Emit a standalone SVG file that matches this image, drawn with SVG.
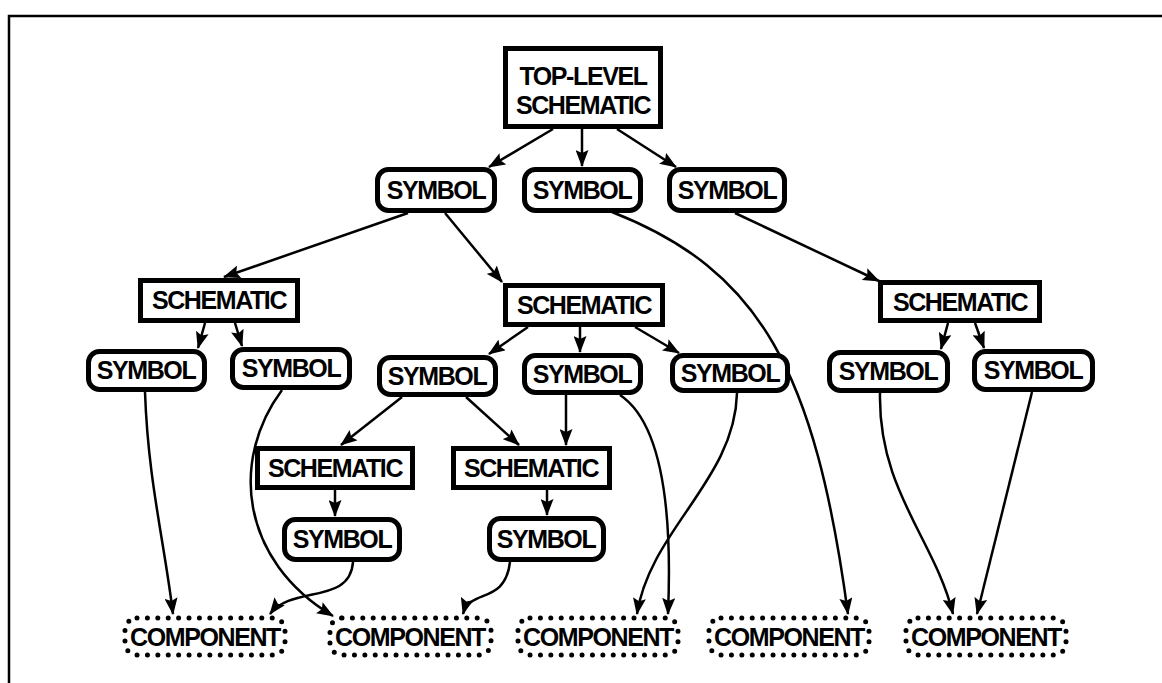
<svg xmlns="http://www.w3.org/2000/svg" width="1162" height="683" viewBox="0 0 1162 683">
<style>
.box{fill:#fff;stroke:#000;stroke-width:5}
.cmp{fill:#fff;stroke:#000;stroke-width:5;stroke-dasharray:0 10.4;stroke-linecap:round}
.t{font-family:"Liberation Sans",Arial,Helvetica,sans-serif;font-weight:bold;font-size:25px;text-anchor:middle;fill:#000;letter-spacing:-1.4px}
.e{fill:none;stroke:#000;stroke-width:2.5;marker-end:url(#ah)}
.frame{fill:none;stroke:#000;stroke-width:2.5}
</style>
<defs>
<marker id="ah" markerUnits="userSpaceOnUse" markerWidth="17" markerHeight="13" refX="16" refY="6.5" orient="auto">
<path d="M0,0 L17,6.5 L0,13 L3,6.5 z" fill="#000"/>
</marker>
</defs>
<rect width="1162" height="683" fill="#fff"/>
<path class="frame" d="M9,683 V16 H1162"/>

<g id="connectors">
<path class="e" d="M553,129 L489,167"/>
<path class="e" d="M582,129 L582,166"/>
<path class="e" d="M617,129 L676,167"/>
<path class="e" d="M408,213 L224,277"/>
<path class="e" d="M445,213 L502,282"/>
<path class="e" d="M612,212 C760,270 815,370 848,614"/>
<path class="e" d="M735,213 L879,281"/>
<path class="e" d="M205,323 L198,348"/>
<path class="e" d="M235,323 L242,346"/>
<path class="e" d="M528,327 L489,354"/>
<path class="e" d="M580,327 L580,352"/>
<path class="e" d="M635,327 L679,353"/>
<path class="e" d="M948,323 L941,349"/>
<path class="e" d="M975,323 L984,348"/>
<path class="e" d="M145,392 C148,480 164,540 173,614"/>
<path class="e" d="M282,390 C230,460 240,560 333,616"/>
<path class="e" d="M402,397 L341,445"/>
<path class="e" d="M466,397 L519,445"/>
<path class="e" d="M566,395 L566,445"/>
<path class="e" d="M620,395 C665,425 672,520 668,614"/>
<path class="e" d="M737,393 C735,480 650,530 637,614"/>
<path class="e" d="M880,393 C878,490 935,540 953,614"/>
<path class="e" d="M1032,392 L977,614"/>
<path class="e" d="M335,490 L335,516"/>
<path class="e" d="M547,490 L547,515"/>
<path class="e" d="M353,562 C350,605 292,585 270,614"/>
<path class="e" d="M510,562 C505,605 470,588 463,614"/>
</g>

<g id="top">
<rect class="box" x="505.5" y="48.5" width="155" height="78"/>
<text class="t" x="583" y="85">TOP-LEVEL</text>
<text class="t" x="583" y="114">SCHEMATIC</text>
</g>

<g id="sym1L"><rect class="box" x="377.5" y="169.5" width="117" height="41" rx="11"/><text class="t" x="436" y="199">SYMBOL</text></g>
<g id="sym1M"><rect class="box" x="524.5" y="169.5" width="116" height="41" rx="11"/><text class="t" x="582" y="199">SYMBOL</text></g>
<g id="sym1R"><rect class="box" x="669.5" y="169.5" width="115" height="41" rx="11"/><text class="t" x="727" y="199">SYMBOL</text></g>

<g id="schL"><rect class="box" x="140.5" y="280.5" width="157" height="40"/><text class="t" x="219" y="309">SCHEMATIC</text></g>
<g id="schM"><rect class="box" x="505.5" y="285.5" width="157" height="39"/><text class="t" x="584" y="314">SCHEMATIC</text></g>
<g id="schR"><rect class="box" x="880.5" y="282.5" width="159" height="38"/><text class="t" x="960" y="311">SCHEMATIC</text></g>

<g id="sym2a"><rect class="box" x="88.5" y="351.5" width="116" height="38" rx="11"/><text class="t" x="146" y="379">SYMBOL</text></g>
<g id="sym2b"><rect class="box" x="232.5" y="349.5" width="117" height="38" rx="11"/><text class="t" x="291" y="377">SYMBOL</text></g>
<g id="sym2c"><rect class="box" x="379.5" y="357.5" width="116" height="37" rx="11"/><text class="t" x="437" y="385">SYMBOL</text></g>
<g id="sym2d"><rect class="box" x="524.5" y="355.5" width="116" height="37" rx="11"/><text class="t" x="582" y="383">SYMBOL</text></g>
<g id="sym2e"><rect class="box" x="672.5" y="355.5" width="115" height="35" rx="11"/><text class="t" x="730" y="382">SYMBOL</text></g>
<g id="sym2f"><rect class="box" x="829.5" y="352.5" width="118" height="38" rx="11"/><text class="t" x="888" y="380">SYMBOL</text></g>
<g id="sym2g"><rect class="box" x="974.5" y="351.5" width="118" height="38" rx="11"/><text class="t" x="1033" y="379">SYMBOL</text></g>

<g id="schA"><rect class="box" x="257.5" y="448.5" width="155" height="39"/><text class="t" x="335" y="477">SCHEMATIC</text></g>
<g id="schB"><rect class="box" x="453.5" y="448.5" width="156" height="39"/><text class="t" x="531" y="477">SCHEMATIC</text></g>

<g id="symA"><rect class="box" x="284.5" y="519.5" width="115" height="40" rx="11"/><text class="t" x="342" y="548">SYMBOL</text></g>
<g id="symB"><rect class="box" x="489.5" y="518.5" width="114" height="41" rx="11"/><text class="t" x="546" y="548">SYMBOL</text></g>

<g id="comp1"><rect class="cmp" x="125" y="618" width="160" height="37" rx="12"/><text class="t" x="205" y="646">COMPONENT</text></g>
<g id="comp2"><rect class="cmp" x="330" y="618" width="161" height="37" rx="12"/><text class="t" x="410" y="646">COMPONENT</text></g>
<g id="comp3"><rect class="cmp" x="518" y="618" width="160" height="37" rx="12"/><text class="t" x="598" y="646">COMPONENT</text></g>
<g id="comp4"><rect class="cmp" x="709" y="618" width="160" height="37" rx="12"/><text class="t" x="789" y="646">COMPONENT</text></g>
<g id="comp5"><rect class="cmp" x="906" y="618" width="160" height="37" rx="12"/><text class="t" x="986" y="646">COMPONENT</text></g>
</svg>
